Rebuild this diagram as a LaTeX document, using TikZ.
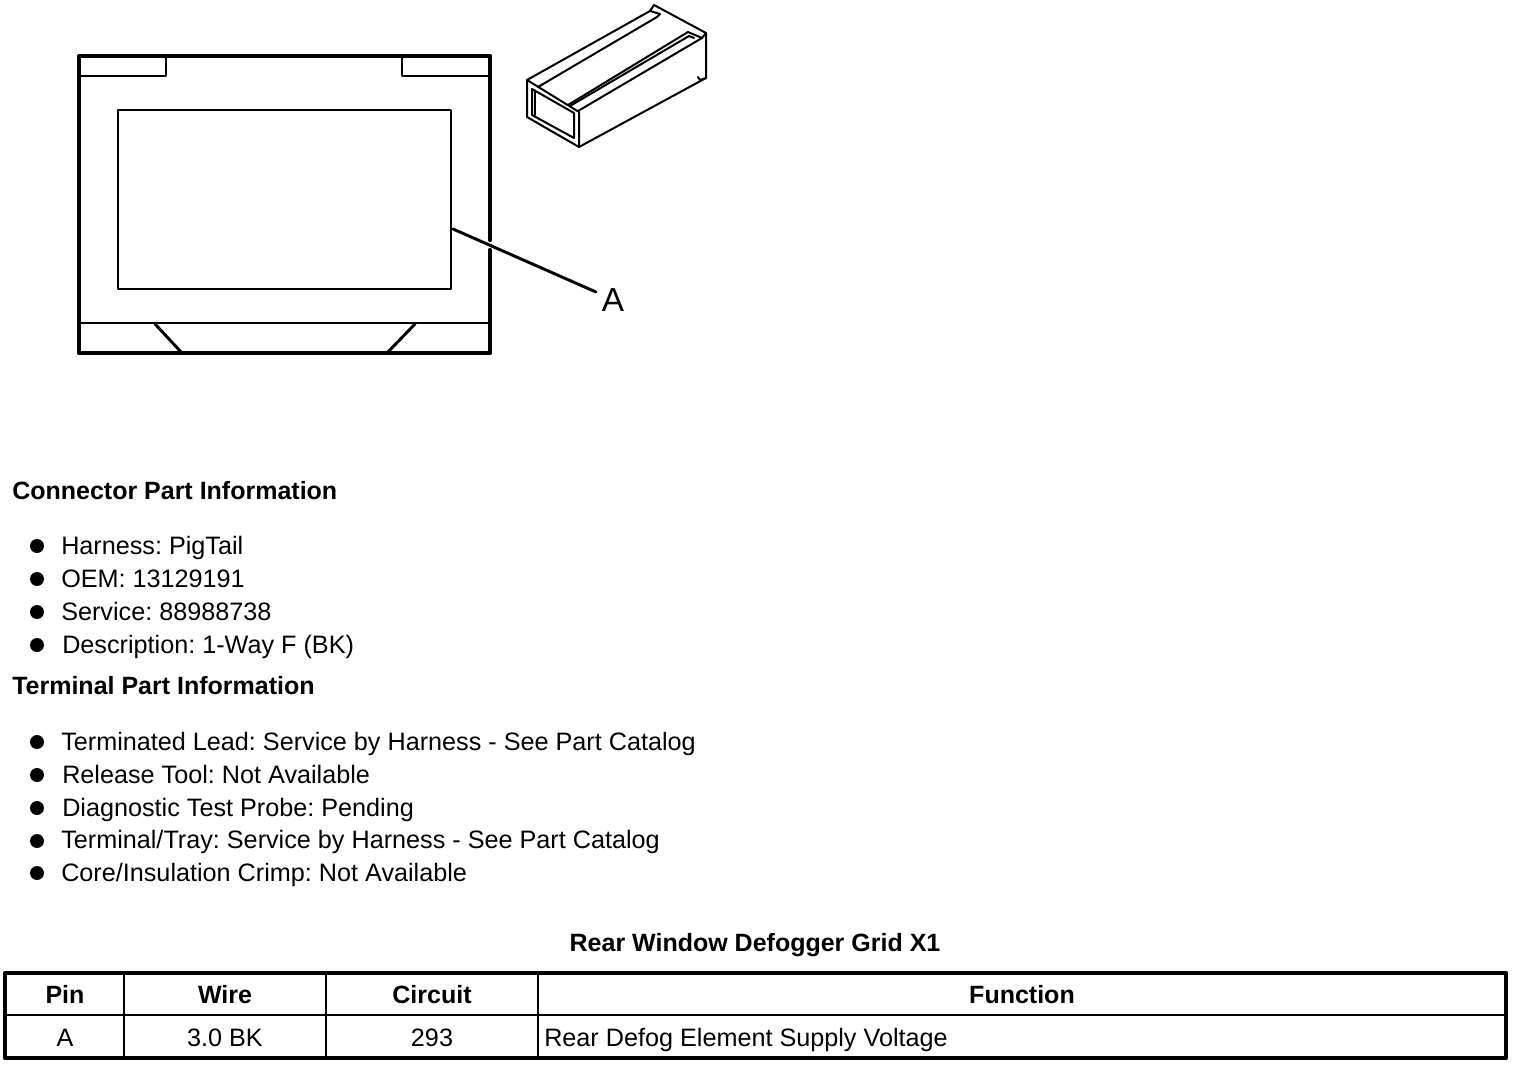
\documentclass[tikz,border=0pt]{standalone}
\usepackage{fontspec}
\setmainfont{Liberation Sans}
\frenchspacing
\begin{document}
\begin{tikzpicture}[x=0.75pt,y=-0.75pt,
  line cap=round,line join=round,
  thickl/.style={line width=3.2pt},
  medl/.style={line width=2.2pt},
  thinl/.style={line width=1.5pt},
  body/.style={anchor=base west,inner sep=0pt,font=\fontsize{18.9}{20}\selectfont},
  head/.style={body,font=\fontsize{18.75}{20}\selectfont\bfseries},
  cell/.style={anchor=base,inner sep=0pt,font=\fontsize{18.9}{20}\selectfont},
  hcell/.style={cell,font=\fontsize{18.75}{20}\selectfont\bfseries},
  dot/.style={circle,fill=black,inner sep=0pt,minimum size=10.5pt}]
\useasboundingbox (0,0) rectangle (1520,1066);
% front view
\draw[thickl] (490,240) -- (490,56) -- (79,56) -- (79,353) -- (490,353) -- (490,250);
\draw[medl] (79,76) -- (166,76) -- (166,56);
\draw[medl] (402,56) -- (402,76) -- (490,76);
\draw[medl] (118,110) rectangle (451,289);
\draw[medl] (79,323) -- (490,323);
\draw[medl] (155,324) -- (182,353);
\draw[medl] (415,324) -- (387,353);
\node[inner sep=0pt,anchor=base,font=\fontsize{25}{27}\selectfont] (lblA) at (613,311) {A};
\coordinate (leadS) at (453,229);
\draw[medl] (leadS) -- (596,292);
% connector perspective
\draw[thinl] (650,11) -- (527,80) -- (527,117) -- (579,147) -- (706,78) -- (706,33) -- (654,5) -- (650,11);
\draw[thinl] (527,80) -- (579,112) -- (579,147);
\draw[thinl] (532,89) -- (574,113) -- (574,138) -- (532,115) -- cycle;
\draw[thinl] (535,91) -- (535,115);
\draw[thinl] (538,87) -- (657,17) -- (660,14) -- (650,11);
\draw[thinl] (568,105) -- (688,32) -- (702,38) -- (578,111);
\draw[thinl] (570,106) -- (689,36) -- (694,38);
\draw[thinl] (702,38) -- (706,33);
\draw[thinl] (706,78) -- (700,80) -- (698,77);
% texts
\node[head] (h1) at (12,499) {Connector Part Information};
\node[dot] (b1) at (37,546) {};
\node[body] (t1) at (61,554) {Harness: PigTail};
\node[dot] (b2) at (37,579) {};
\node[body] (t2) at (61,587) {OEM: 13129191};
\node[dot] (b3) at (37,612) {};
\node[body] (t3) at (61,620) {Service: 88988738};
\node[dot] (b4) at (37,645) {};
\node[body] (t4) at (62,653) {Description: 1-Way F (BK)};
\node[head] (h2) at (12,694) {Terminal Part Information};
\node[dot] (b5) at (37,742) {};
\node[body] (t5) at (61,750) {Terminated Lead: Service by Harness - See Part Catalog};
\node[dot] (b6) at (37,775) {};
\node[body] (t6) at (62,783) {Release Tool: Not Available};
\node[dot] (b7) at (37,808) {};
\node[body] (t7) at (62,816) {Diagnostic Test Probe: Pending};
\node[dot] (b8) at (37,841) {};
\node[body] (t8) at (61,848) {Terminal/Tray: Service by Harness - See Part Catalog};
\node[dot] (b9) at (37,873) {};
\node[body] (t9) at (61,881) {Core/Insulation Crimp: Not Available};
\node[hcell] (title) at (755,951) {Rear Window Defogger Grid X1};
% table
\draw[thickl] (5,973) rectangle (1506,1058);
\draw[medl] (5,1015) -- (1506,1015);
\draw[medl] (124,973) -- (124,1015);
\draw[thinl] (124,1015) -- (124,1058);
\draw[thinl] (326,973) -- (326,1058);
\draw[thinl] (538,973) -- (538,1058);
\node[hcell] (c1) at (65,1003) {Pin};
\node[hcell] (c2) at (225,1003) {Wire};
\node[hcell] (c3) at (432,1003) {Circuit};
\node[hcell] (c4) at (1022,1003) {Function};
\node[cell] (d1) at (65,1046) {A};
\node[cell] (d2) at (225,1046) {3.0 BK};
\node[cell] (d3) at (432,1046) {293};
\node[body] (d4) at (544,1046) {Rear Defog Element Supply Voltage};
\end{tikzpicture}
\end{document}
